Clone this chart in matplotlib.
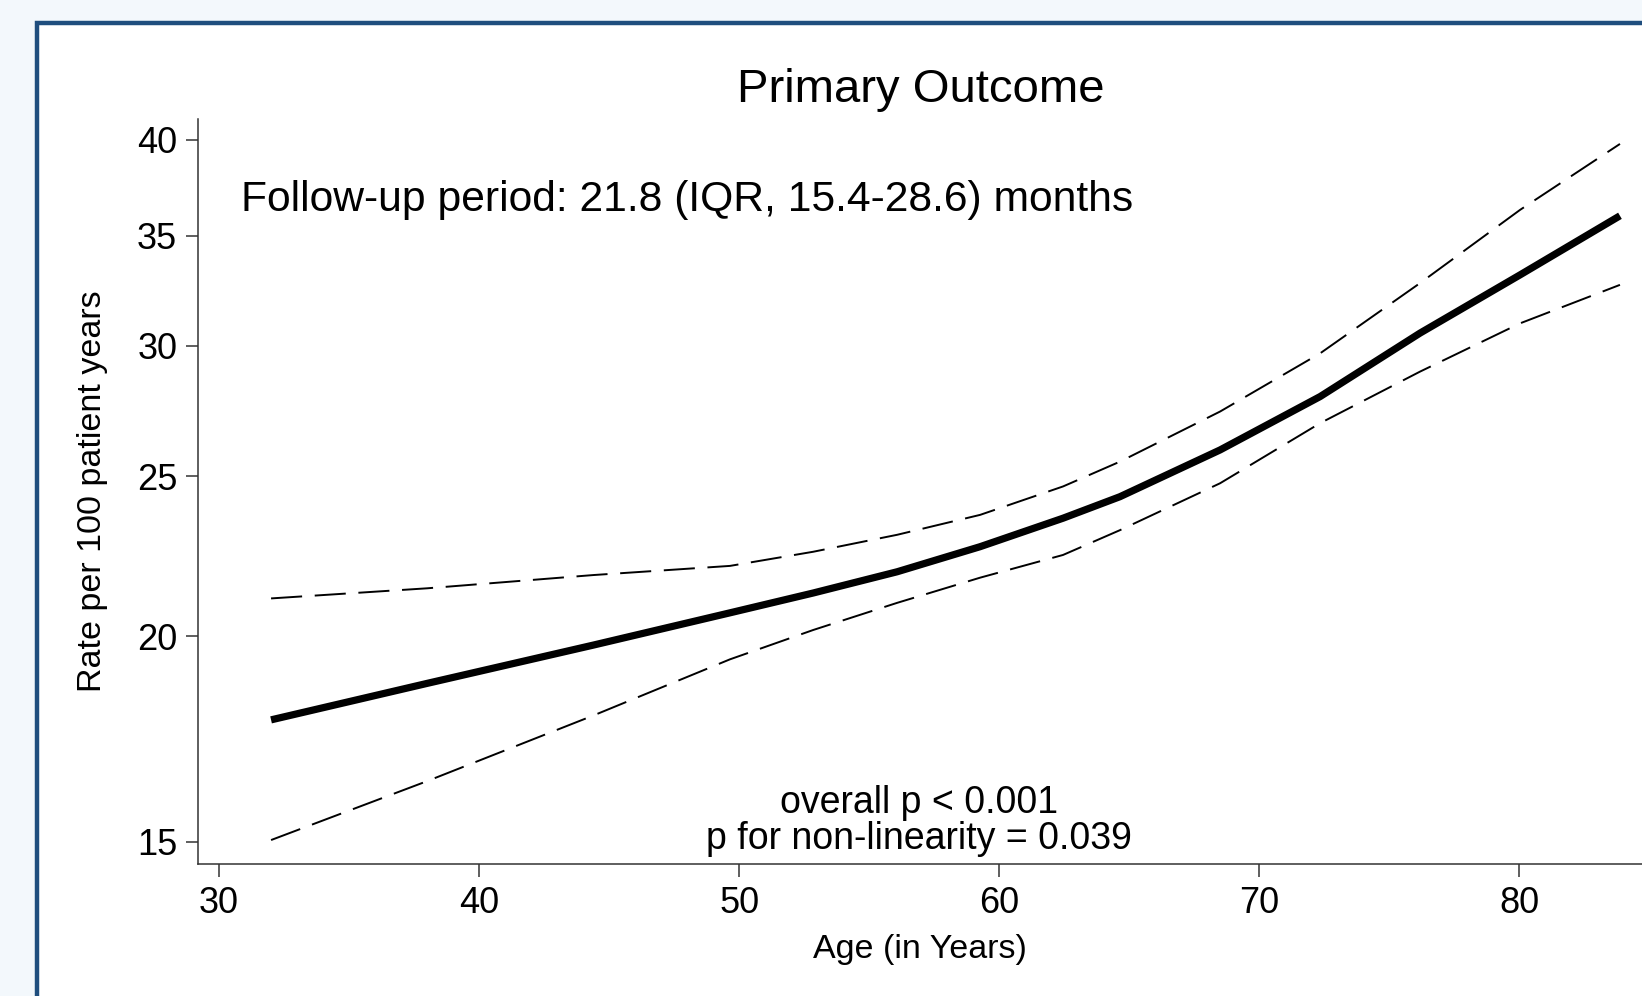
import matplotlib
matplotlib.use("Agg")
import matplotlib.pyplot as plt
from matplotlib.patches import Rectangle

plt.rcParams['font.family'] = ['Liberation Sans', 'DejaVu Sans']

# values (rate per 100 patient years, log axis)
age = [32, 38, 44.4, 49.65, 52.85, 56.08, 59.27, 62.46, 64.65, 68.5, 72.35, 76.19, 80.04, 83.88]
rate = [17.79, 18.72, 19.75, 20.66, 21.24, 21.88, 22.66, 23.58, 24.30, 25.94, 27.95, 30.54, 33.13, 35.98]
upper = [21.08, 21.38, 21.78, 22.06, 22.50, 23.04, 23.69, 24.65, 25.52, 27.37, 29.69, 32.75, 36.28, 39.78]
lower = [15.04, 16.33, 17.90, 19.36, 20.17, 20.95, 21.70, 22.40, 23.19, 24.76, 26.93, 28.94, 30.96, 32.67]

xticks = [30, 40, 50, 60, 70, 80]
yticks = [15, 20, 25, 30, 35, 40]

W, H = 1642, 996
fig = plt.figure(figsize=(W / 100, H / 100), dpi=100, facecolor='#f3f8fc')

# framed white panel (runs off the right and bottom edges)
frame = Rectangle((37 / W, -0.05), 1.1, 1 - 23 / H + 0.05, transform=fig.transFigure,
                  facecolor='white', edgecolor='#1f4e7e', linewidth=3.2, zorder=-5)
fig.patches.append(frame)

ax = fig.add_axes([198 / W, 1 - 864 / H, (1660 - 198) / W, (864 - 119) / H])
ax.set_zorder(3)
ax.patch.set_alpha(0)

ax.plot(age, upper, color='black', lw=1.4, dashes=(16, 6.5))
ax.plot(age, lower, color='black', lw=1.4, dashes=(16, 6.5))
ax.plot(age, rate, color='black', lw=5.2, solid_capstyle='butt', solid_joinstyle='round')

ax.set_yscale('log')
ax.set_xlim(29.19, 85.42)
ax.set_ylim(14.545, 41.19)
ax.set_xticks(xticks)
ax.set_xticklabels([str(t) for t in xticks])
ax.set_yticks(yticks)
ax.set_yticklabels([str(t) for t in yticks])
ax.minorticks_off()

for s in ['top', 'right']:
    ax.spines[s].set_visible(False)
for s in ['left', 'bottom']:
    ax.spines[s].set_linewidth(1.1)
    ax.spines[s].set_color('#333333')

ax.tick_params(axis='both', length=9, width=1.1, color='#333333', labelsize=26)
ax.tick_params(axis='y', pad=6)
ax.tick_params(axis='x', pad=7)

fig.text(921 / W, 1 - 102 / H, 'Primary Outcome', ha='center', va='baseline', fontsize=34)
fig.text(241 / W, 1 - 211 / H, 'Follow-up period: 21.8 (IQR, 15.4-28.6) months',
         ha='left', va='baseline', fontsize=30.7)
fig.text(919 / W, 1 - 813 / H, 'overall p < 0.001', ha='center', va='baseline', fontsize=27)
fig.text(919 / W, 1 - 849 / H, 'p for non-linearity = 0.039', ha='center', va='baseline', fontsize=27)
fig.text(920 / W, 1 - 958 / H, 'Age (in Years)', ha='center', va='baseline', fontsize=24.5)
fig.text(93 / W, 1 - 491 / H, 'Rate per 100 patient years', ha='center', va='center',
         rotation=90, fontsize=24.5)

fig.savefig('out.png', dpi=100, facecolor=fig.get_facecolor())
